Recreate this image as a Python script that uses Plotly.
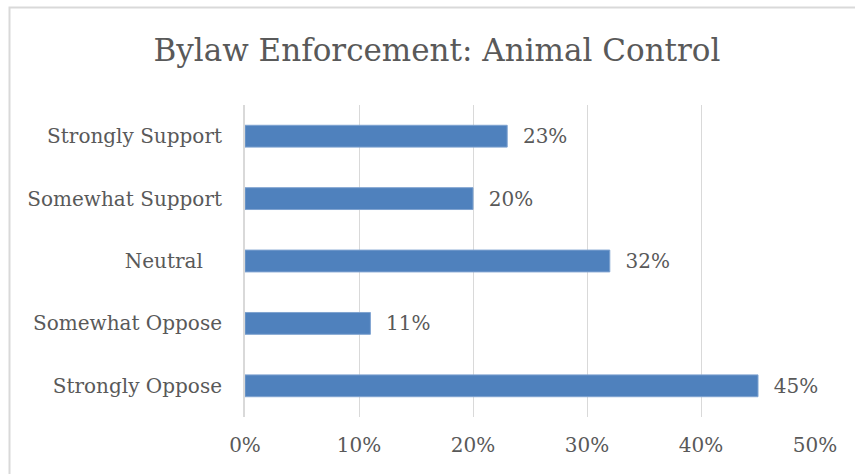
import plotly.graph_objects as go

categories = ["Strongly Oppose", "Somewhat Oppose", "Neutral\u00a0\u00a0\u00a0", "Somewhat Support", "Strongly Support"]
values = [0.45, 0.11, 0.32, 0.20, 0.23]
value_labels = ["45%", "11%", "32%", "20%", "23%"]
x_ticks = [0, 0.1, 0.2, 0.3, 0.4, 0.5]
x_tick_labels = ["0%", "10%", "20%", "30%", "40%", "50%"]

W, H = 855, 474
L, R, T, B = 245, 40, 105, 57
FONT = "DejaVu Serif"
GRAY = "#595959"

fig = go.Figure(go.Bar(
    y=categories, x=values, orientation="h",
    marker=dict(color="#4F81BD", line=dict(color="#7FA3D0", width=1)),
    text=["\u00a0\u00a0" + t for t in value_labels], textposition="outside",
    textfont=dict(family=FONT, size=20, color=GRAY),
    constraintext="none",
    cliponaxis=False, width=0.35,
))

pw, ph = W - L - R, H - T - B
fig.add_shape(type="rect", xref="paper", yref="paper",
              x0=(9.5 - L) / pw, x1=(W + 20 - L) / pw,
              y0=(H - 7.5 - B) / ph, y1=(-20 - B) / ph,
              line=dict(color="#D9D9D9", width=2), layer="below")

fig.update_layout(
    width=W, height=H,
    margin=dict(l=L, r=R, t=T, b=B),
    paper_bgcolor="white", plot_bgcolor="white",
    title=dict(text="Bylaw Enforcement: Animal Control", x=437 / W, xref="container",
               y=1 - 50 / H, yanchor="middle", xanchor="center",
               font=dict(family=FONT, size=31, color=GRAY)),
    xaxis=dict(range=[0, 0.5], tickvals=x_ticks, ticktext=x_tick_labels,
               showgrid=True, gridcolor="#D9D9D9", gridwidth=1,
               zeroline=False, showline=False, ticks="", ticklen=0,
               ticklabelstandoff=14,
               tickfont=dict(family=FONT, size=20, color=GRAY)),
    yaxis=dict(showgrid=False, zeroline=False, showline=True,
               linecolor="#D9D9D9", linewidth=2, ticks="",
               ticklabelstandoff=17,
               tickfont=dict(family=FONT, size=20, color=GRAY)),
    showlegend=False, bargap=0.65,
)

fig.write_html("out.html", post_script="document.body.style.margin='0';",
               config={"displayModeBar": False})
